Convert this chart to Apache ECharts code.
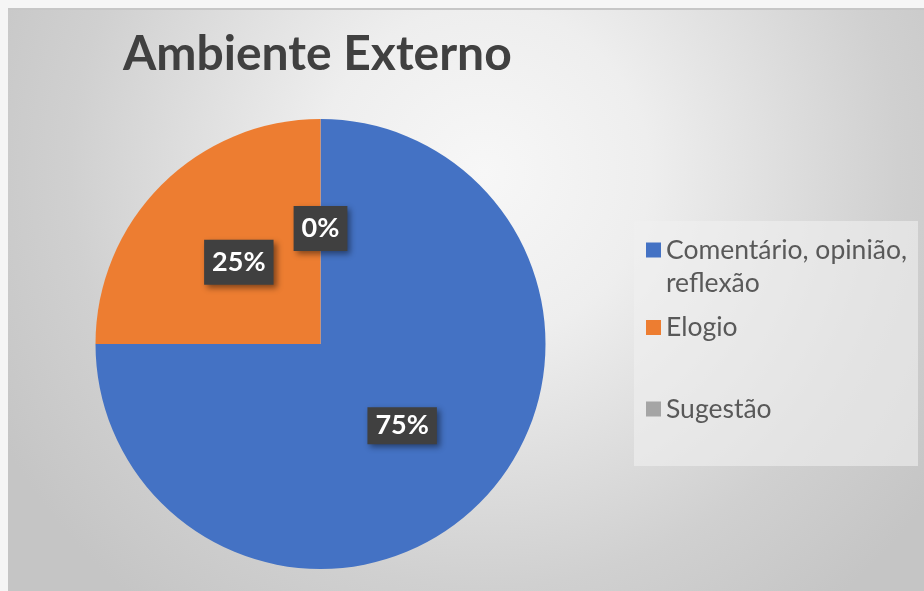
<!DOCTYPE html>
<html>
<head>
<meta charset="utf-8">
<script src="https://cdn.jsdelivr.net/npm/echarts@6/dist/echarts.min.js"></script>
<style>
  html, body { margin: 0; padding: 0; background: #f5f5f5; width: 924px; height: 591px; overflow: hidden; }
  #topline { position: absolute; left: 8px; top: 8px; width: 916px; height: 2px; background: #c6c6c6; }
  #chart { position: absolute; left: 8px; top: 10px; width: 916px; height: 581px; }
</style>
</head>
<body>
<div id="topline"></div>
<div id="chart"></div>
<script>
// ---- data ----
const titleText = 'Ambiente Externo';
const categories = ['Comentário, opinião, reflexão', 'Elogio', 'Sugestão'];
const legendText = ['\nComentário, opinião,\nreflexão', 'Elogio', 'Sugestão'];
const values = [75, 25, 0];
const colors = ['#4472C4', '#ED7D31', '#A5A5A5'];
const labelPadV = [4, 8, 8];

const FONT = 'Lato, "Open Sans", "Noto Sans", sans-serif';

const chart = echarts.init(document.getElementById('chart'), null, { renderer: 'canvas' });

const pieData = categories.map((name, i) => ({
  name: name,
  value: values[i],
  itemStyle: { color: colors[i] },
  label: { padding: [labelPadV[i], 8, labelPadV[i], 8] }
}));

const legendFormatter = function (name) {
  const i = categories.indexOf(name);
  return i >= 0 ? legendText[i] : name;
};

const legendCommon = {
  orient: 'vertical',
  left: 638,
  padding: 0,
  icon: 'rect',
  itemWidth: 15,
  itemHeight: 15,
  itemGap: 11.5,
  selectedMode: false,
  formatter: legendFormatter,
  textStyle: { color: '#595959', fontSize: 26.5, fontFamily: FONT, lineHeight: 33 }
};

chart.setOption({
  animation: false,
  backgroundColor: {
    type: 'radial', x: 0.52, y: 0.28, r: 0.95,
    colorStops: [
      { offset: 0, color: '#f7f7f7' },
      { offset: 0.3, color: '#eeeeee' },
      { offset: 0.75, color: '#d0d0d0' },
      { offset: 1, color: '#c5c5c5' }
    ]
  },
  title: {
    text: titleText,
    left: 115,
    top: 21,
    padding: 0,
    textStyle: { fontFamily: FONT, fontSize: 48, fontWeight: 'bold', color: '#404040', lineHeight: 48 }
  },
  graphic: [{
    type: 'rect',
    left: 626, top: 211,
    shape: { width: 284, height: 245 },
    style: { fill: 'rgba(240,240,240,0.6)' },
    z: -1, silent: true
  }],
  legend: [
    Object.assign({}, legendCommon, { data: [categories[0], categories[1]], top: 190.5 }),
    Object.assign({}, legendCommon, { data: [categories[2]], top: 382.5 })
  ],
  series: [{
    type: 'pie',
    center: [312.5, 334],
    radius: [0, 225],
    startAngle: 90,
    clockwise: true,
    avoidLabelOverlap: false,
    minShowLabelAngle: 0,
    data: pieData,
    label: {
      show: true,
      position: 'inside',
      formatter: '{d}%',
      color: '#ffffff',
      fontFamily: FONT,
      fontSize: 27,
      fontWeight: 'bold',
      lineHeight: 29,
      backgroundColor: '#404040',
      shadowColor: 'rgba(0,0,0,0.45)',
      shadowBlur: 6,
      shadowOffsetX: 3,
      shadowOffsetY: 3
    },
    labelLine: { show: false },
    emphasis: { disabled: true }
  }]
});
</script>
</body>
</html>
